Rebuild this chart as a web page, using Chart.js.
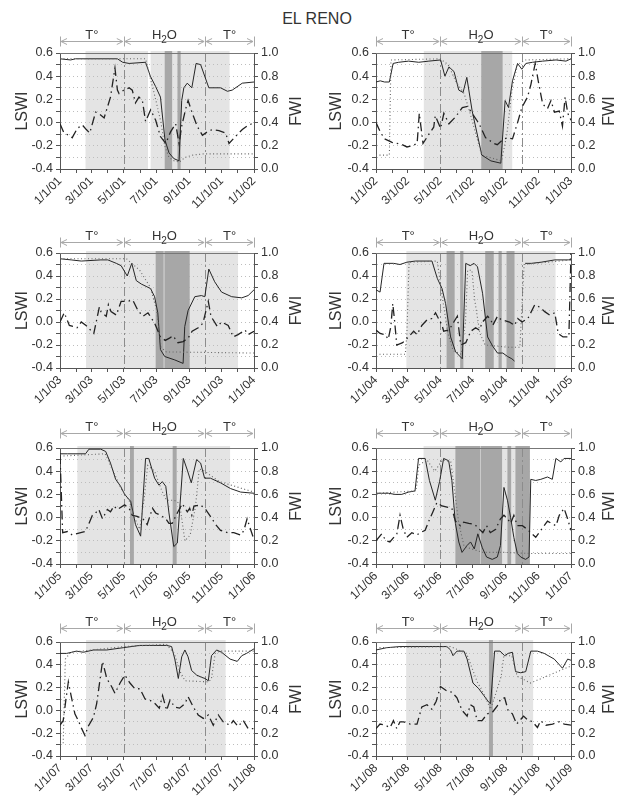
<!DOCTYPE html>
<html lang="en">
<head>
<meta charset="UTF-8">
<title>El Reno - LSWI / FWI</title>
<script src="https://cdn.jsdelivr.net/npm/chart.js"></script>
<style>
  body { margin: 0; background: #fff; font-family: "Liberation Sans", Arial, sans-serif; }
  #page { position: relative; width: 618px; height: 802px; overflow: hidden; }
  h1 { position: absolute; top: 10px; left: 16px; width: 602px; margin: 0; text-align: center;
       font-size: 16px; font-weight: normal; color: #333; }
  canvas { position: absolute; }
</style>
</head>
<body>
<div id="page">
  <h1>EL RENO</h1>
</div>

<script>
// ---- data (days since Jan 1 of each year) ----
const years = ['01', '02', '03', '04', '05', '06', '07', '08'];
const nextYears = ['02', '03', '04', '05', '06', '07', '08', '09'];
const leapYears = ['04', '08'];
const tickMonths = [1, 3, 5, 7, 9, 11];
const lswiTicks = [-0.4, -0.3, -0.2, -0.1, 0, 0.1, 0.2, 0.3, 0.4, 0.5, 0.6];
const lswiLabeled = [-0.4, -0.2, 0, 0.2, 0.4, 0.6];
const fwiTicks = [0, 0.1, 0.2, 0.3, 0.4, 0.5, 0.6, 0.7, 0.8, 0.9, 1.0];
const fwiLabeled = [0, 0.2, 0.4, 0.6, 0.8, 1.0];
const seasonLabels = ['T°', 'H2O', 'T°'];

// 2001
const fwiSolid01 = [[0,0.95],[20,0.94],[29,0.95],[108,0.95],[118,0.92],[130,0.91],[161,0.92],[170,0.80],[180,0.71],[189,0.62],[197.5,0.25],[205,0.14],[214,0.09],[224,0.07],[229,0.59],[233,0.70],[239.5,0.74],[248,0.70],[256,0.91],[264.6,0.90],[280,0.70],[302,0.70],[315,0.67],[324,0.68],[343,0.74],[365,0.75]];
const fwiDotted01 = [[0,0.95],[161,0.95],[170,0.78],[180,0.60],[190,0.40],[197,0.20],[205,0.10],[215,0.07],[225,0.06],[235,0.10],[250,0.12],[270,0.13],[365,0.13]];
const lswi01 = [[0,-0.01],[7.5,-0.09],[17,-0.11],[23,-0.13],[32.6,-0.05],[42,-0.02],[49.5,-0.06],[56,-0.09],[67,0.09],[73,0.08],[83,0.04],[95,0.22],[103.4,0.47],[108,0.28],[111,0.25],[120,0.28],[130,0.30],[136,0.28],[142,0.17],[148.6,0.22],[155,0.19],[161,0.01],[170.5,0.11],[180,0.02],[189,-0.12],[199,-0.18],[208,-0.08],[217.6,-0.01],[224,-0.18],[229,-0.03],[236,0.11],[241,0.19],[249,0.08],[258,-0.03],[268,-0.11],[277,-0.08],[286.5,-0.06],[299,-0.07],[311.6,-0.09],[318,-0.18],[330,-0.12],[343,-0.06],[352,-0.03],[365,0.0]];
const light01 = [[48,165.5],[170.5,319]];
const dark01 = [[197,211],[221,227]];

// 2002
const fwiSolid02 = [[0,0.75],[8,0.76],[16,0.75],[25,0.75],[32,0.91],[42.5,0.92],[61,0.93],[80,0.92],[99,0.93],[121,0.94],[129,0.80],[136.5,0.88],[146,0.84],[155,0.68],[163,0.66],[170,0.79],[180,0.50],[198,0.12],[215,0.07],[233.6,0.05],[241.7,0.59],[248,0.53],[255.5,0.76],[265,0.91],[273,0.86],[280.5,0.91],[293,0.92],[312,0.93],[337,0.94],[355.6,0.93],[365,0.95]];
const fwiDotted02 = [[0,0.12],[25,0.12],[28,0.94],[120,0.95],[135,0.90],[150,0.75],[165,0.65],[175,0.50],[190,0.25],[198,0.12],[235,0.07],[245,0.30],[255,0.70],[265,0.90],[280,0.94],[365,0.95]];
const lswi02 = [[0,0.0],[8,-0.08],[16,-0.14],[30,-0.17],[49,-0.19],[58,-0.21],[67.6,-0.20],[77,-0.18],[81,0.08],[88,-0.18],[99,-0.10],[108,-0.04],[111,0.06],[121,-0.05],[127,0.08],[136.5,-0.01],[149,0.05],[161.5,0.13],[171,0.14],[180,0.08],[193,-0.01],[205,-0.13],[221,-0.18],[227,-0.19],[236.7,-0.15],[246,-0.13],[255.5,-0.14],[265,0.0],[273,0.13],[283.6,0.22],[290,0.33],[298,0.51],[304,0.35],[312,0.16],[321,0.12],[327.5,0.19],[334,0.09],[343,0.10],[349,-0.03],[354,0.22],[359,0.08],[365,0.02]];
const light02 = [[89.5,255]];
const dark02 = [[197,237]];

// 2003
const fwiSolid03 = [[0,0.95],[21,0.94],[40,0.93],[77,0.94],[90,0.94],[106,0.91],[115,0.89],[126.5,0.80],[135,0.91],[143.5,0.76],[153,0.73],[162,0.71],[170.5,0.69],[178,0.62],[184,0.48],[189,0.16],[197,0.10],[216,0.07],[231.6,0.04],[234.7,0.36],[241,0.50],[253.6,0.62],[266,0.63],[272.5,0.62],[280,0.86],[291,0.75],[304,0.66],[323,0.62],[342,0.61],[354,0.63],[365,0.68]];
const fwiDotted03 = [[0,0.95],[125,0.95],[150,0.85],[170,0.70],[182,0.50],[190,0.18],[200,0.14],[365,0.13]];
const lswi03 = [[0,0.0],[8,0.08],[17.6,-0.03],[27,-0.04],[32,-0.05],[40,0.0],[49,-0.03],[63.6,-0.10],[74,0.13],[77,0.09],[87,0.05],[91,0.15],[96,0.09],[106,0.06],[115,0.18],[126.5,0.18],[137,0.19],[146.6,0.10],[156,0.05],[165.5,0.08],[178,-0.01],[189,-0.13],[198,-0.16],[206,-0.14],[212.7,-0.12],[222,-0.18],[231.6,-0.17],[241,-0.14],[248.6,-0.08],[260,-0.05],[269,-0.01],[279,0.18],[284,0.05],[296,-0.04],[304,0.0],[316.5,-0.03],[326,-0.13],[335,-0.11],[348,-0.07],[354,-0.11],[365,-0.08]];
const light03 = [[49,335]];
const dark03 = [[180,195],[196.5,244]];

// 2004
const fwiSolid04 = [[0,0.68],[7.6,0.66],[15,0.91],[33,0.91],[45,0.90],[58,0.92],[74,0.93],[105,0.93],[115,0.78],[124,0.69],[130.6,0.56],[140,0.27],[149.5,0.14],[162,0.08],[168.5,0.91],[176.7,0.89],[184,0.91],[190.5,0.88],[200,0.65],[209.5,0.27],[219,0.19],[228,0.13],[238,0.13],[247,0.10],[255,0.08],[260,0.06],[270,null],[280,0.91],[291.5,0.91],[310,0.92],[335.6,0.94],[361,0.94],[366,0.95]];
const fwiDotted04 = [[0,0.12],[55,0.12],[58,0.30],[62,0.92],[115,0.93],[125,0.60],[135,0.30],[145,0.15],[160,0.12],[168,0.40],[172,0.85],[180,0.85],[185,0.60],[195,0.30],[205,0.20],[250,0.18],[270,0.18],[278,0.90],[366,0.94]];
const lswi04 = [[0,-0.07],[7.6,-0.10],[17,-0.11],[23,-0.15],[27.8,-0.04],[31.5,0.16],[34.7,0.02],[39,-0.20],[50,-0.18],[61,-0.13],[70.7,-0.08],[77,-0.11],[86,-0.03],[96,0.02],[105,0.03],[111.7,0.08],[124,-0.03],[127,-0.08],[137,-0.07],[146,0.0],[152.7,0.05],[159,-0.20],[168.5,-0.18],[178,-0.08],[187,-0.05],[193.7,-0.07],[200,0.0],[209.5,0.05],[215.8,0.02],[219,-0.03],[228,0.05],[234.7,0.02],[250.5,0.0],[260,-0.03],[266,0.03],[274,0.0],[285,0.03],[298,0.15],[307,0.13],[316.7,0.09],[326,0.06],[335.6,0.08],[342,-0.10],[351,-0.13],[362,-0.13],[366,0.6]];
const light04 = [[57,337]];
const dark04 = [[132.5,147.6],[158,164],[205,221],[230,236],[245,260]];

// 2005
const fwiSolid05 = [[0,0.95],[14,0.95],[48,0.95],[54.5,0.99],[76.5,0.99],[86,0.97],[95,0.87],[104.7,0.73],[114,0.67],[121.6,0.60],[133,0.54],[139,0.41],[142,0.34],[151.7,0.24],[161,0.91],[167,0.91],[178,0.74],[186,0.68],[192.5,0.71],[199,0.67],[205,0.44],[214,0.15],[220.7,0.18],[232,0.91],[239.5,0.81],[247,0.70],[257,0.90],[264.6,0.87],[272,0.74],[283,0.74],[302,0.70],[321,0.65],[340,0.62],[365,0.61]];
const fwiDotted05 = [[0,0.93],[85,0.95],[100,0.80],[115,0.65],[130,0.55],[140,0.40],[150,0.30],[158,0.55],[165,0.85],[178,0.80],[190,0.65],[200,0.55],[215,0.55],[225,0.52],[235,0.20],[245,0.25],[255,0.50],[262,0.82],[272,0.80],[300,0.71],[365,0.62]];
const lswi05 = [[0,0.54],[5,-0.13],[14,-0.12],[23,-0.15],[39,-0.13],[48,-0.12],[54.5,-0.05],[61,0.02],[67,0.04],[73,0.07],[80,-0.01],[89,0.07],[95,0.05],[101.6,0.10],[108,0.07],[121.6,0.11],[130,0.08],[136,0.02],[145,0.01],[156,-0.01],[164,-0.06],[174,0.08],[180,0.04],[189,0.02],[199,-0.01],[205,-0.05],[211,-0.05],[220.7,0.04],[230,0.12],[239.5,0.05],[244,0.08],[248,0.02],[252,0.10],[264.6,0.11],[274,0.07],[283,0.01],[293,-0.06],[302,-0.11],[315,-0.13],[327,-0.13],[340,-0.15],[346,-0.11],[352,-0.01],[357,-0.08],[365,-0.19]];
const light05 = [[32.6,320]];
const dark05 = [[131.7,139],[212,219.5]];

// 2006
const fwiSolid06 = [[0,0.61],[10.7,0.61],[23,0.61],[35.7,0.60],[48,0.60],[61,0.62],[73,0.63],[79.6,0.91],[92,0.91],[100,0.72],[111,0.55],[119,0.71],[126.6,0.91],[136,0.89],[142,0.72],[148.6,0.35],[155,0.19],[161,0.10],[170.5,0.16],[177,0.19],[184,0.13],[190.6,0.26],[199,0.14],[207,0.06],[217.6,0.04],[227,0.06],[233,0.16],[239.5,0.66],[246,0.55],[252,0.40],[258,0.23],[264.6,0.09],[271,0.06],[280,0.04],[286.5,0.06],[289.7,0.73],[299,0.72],[308.5,0.73],[321,0.75],[330,0.73],[336.7,0.91],[346,0.88],[352,0.91],[365,0.91]];
const fwiDotted06 = [[0,0.61],[75,0.63],[80,0.85],[95,0.90],[110,0.80],[125,0.90],[140,0.88],[148,0.60],[155,0.35],[165,0.15],[200,0.10],[240,0.10],[290,0.09],[365,0.09]];
const lswi06 = [[0,-0.20],[10.7,-0.14],[18.8,-0.20],[26,-0.21],[39,-0.14],[45,0.02],[51,-0.10],[57.7,-0.17],[67,-0.13],[76.5,-0.15],[82.8,-0.13],[92,-0.11],[98,-0.04],[106.6,0.05],[114,0.13],[123.5,0.10],[133,0.09],[142,0.08],[148.6,-0.03],[158,-0.07],[164,-0.04],[173.7,-0.05],[185,-0.06],[200,-0.13],[207,-0.07],[214,-0.13],[224,-0.10],[233,-0.01],[239.5,0.02],[246,-0.01],[252,-0.05],[258,0.02],[264.6,-0.07],[274,-0.07],[283,-0.10],[299,-0.17],[308.5,-0.11],[321,-0.03],[328.5,-0.05],[337,-0.07],[343,0.02],[352,0.08],[358.6,-0.01],[365,-0.11]];
const light06 = [[89,288]];
const dark06 = [[148.6,195],[196,236],[246,253],[261,288]];

// 2007
const fwiSolid07 = [[0,0.90],[12.5,0.90],[22,0.91],[31,0.92],[44,0.91],[63,0.93],[88,0.93],[119,0.95],[150,0.97],[200.6,0.97],[210,0.96],[216,0.85],[222.6,0.68],[229,0.87],[235,0.93],[241,0.87],[247.6,0.75],[257,0.71],[266.5,0.69],[272.7,0.68],[279,0.66],[285,0.88],[294.7,0.93],[304,0.91],[320,0.85],[333.5,0.83],[342,0.88],[351,0.90],[365,0.94]];
const fwiDotted07 = [[0,0.11],[6,0.11],[10,0.85],[20,0.91],[120,0.96],[200,0.98],[215,0.90],[225,0.75],[235,0.66],[280,0.65],[285,0.68],[292,0.90],[300,0.92],[365,0.92]];
const lswi07 = [[0,-0.13],[6,-0.09],[11,0.09],[15.7,0.25],[20,0.15],[28,-0.03],[34.5,-0.09],[40.8,-0.16],[47,-0.22],[53,-0.14],[63,-0.06],[69,0.06],[75,0.26],[80,0.43],[88,0.28],[97,0.21],[103.4,0.15],[113,0.24],[122,0.31],[131.6,0.24],[141,0.19],[150.5,0.19],[160,0.10],[169,0.09],[178.7,0.06],[186.8,0.02],[193,0.13],[200.6,0.0],[207,0.09],[216,0.03],[225,0.02],[235,0.06],[241,0.12],[250.8,0.03],[260,-0.04],[269.6,-0.07],[279,-0.04],[288.4,-0.13],[297.8,-0.04],[307,-0.10],[320,-0.13],[326,-0.09],[335,-0.14],[345,-0.09],[354,-0.16],[365,-0.16]];
const light07 = [[49,311.6]];
const dark07 = [];

// 2008
const fwiSolid08 = [[0,0.93],[20,0.95],[45,0.96],[77,0.96],[133,0.96],[140,0.93],[144.6,0.88],[152,0.92],[165,0.92],[171,0.85],[182,0.64],[193,0.59],[202.5,0.53],[212,0.47],[215,0.46],[222.6,0.92],[232.7,0.92],[241.5,0.88],[248,0.90],[256,0.91],[262,0.74],[271.7,0.73],[281,0.74],[290.6,0.92],[303,0.92],[315.7,0.90],[334.6,0.85],[350,0.77],[359.7,0.85],[366,0.84]];
const fwiDotted08 = [[0,0.95],[140,0.96],[170,0.90],[190,0.65],[205,0.52],[215,0.41],[225,0.55],[235,0.70],[240,0.88],[255,0.88],[265,0.70],[290,0.64],[366,0.79]];
const lswi08 = [[0,-0.16],[7.5,-0.12],[17,-0.13],[26.4,-0.15],[32.7,-0.09],[39,-0.16],[45,-0.10],[51.6,-0.10],[64,-0.12],[77,-0.12],[86,0.03],[95.6,0.05],[105,0.01],[113,0.08],[121,0.21],[133,0.17],[142.8,0.16],[152,0.11],[161.6,0.0],[171,-0.05],[177,0.05],[183.6,0.03],[190,-0.09],[199,-0.09],[209,-0.03],[218,-0.02],[227.7,0.04],[234,0.10],[241.5,0.11],[248,0.0],[256,-0.03],[264,-0.12],[277,-0.05],[284,-0.08],[293.7,-0.10],[303,-0.15],[309,-0.09],[319,-0.13],[331.4,-0.12],[344,-0.10],[353.5,-0.12],[366,-0.13]];
const light08 = [[56.6,295]];
const dark08 = [[212,219.5]];

const solids = [fwiSolid01, fwiSolid02, fwiSolid03, fwiSolid04, fwiSolid05, fwiSolid06, fwiSolid07, fwiSolid08];
const dotteds = [fwiDotted01, fwiDotted02, fwiDotted03, fwiDotted04, fwiDotted05, fwiDotted06, fwiDotted07, fwiDotted08];
const lswis = [lswi01, lswi02, lswi03, lswi04, lswi05, lswi06, lswi07, lswi08];
const lights = [light01, light02, light03, light04, light05, light06, light07, light08];
const darks = [dark01, dark02, dark03, dark04, dark05, dark06, dark07, dark08];

// ---- layout ----
const rowTop = [53, 253, 448, 642];
const rowBottom = [169, 368, 564, 756];
const arrowGap = [12, 11, 15, 14];
const colCanvasX = [0, 309];
const colLeft = [60, 376];
const colRight = [254, 571];
const CANVAS_W = 309;
const TOP_PAD = 30;
const X_AXIS_H = 46;
const TITLE_SIZE = 16;

Chart.defaults.font.family = '"Liberation Sans", Arial, sans-serif';

function monthStarts(leap) {
    const lens = [31, leap ? 29 : 28, 31, 30, 31, 30, 31, 31, 30, 31, 30, 31];
    const out = [0];
    lens.forEach(n => out.push(out[out.length - 1] + n));
    return out;
}

function toXY(pairs) {
    return pairs.map(p => ({ x: p[0], y: p[1] }));
}

function isLabeled(list, v) {
    return list.some(t => Math.abs(t - v) < 1e-6);
}

const panelDeco = {
    id: 'panelDeco',
    beforeDraw(chart, args, o) {
        const { ctx, chartArea: a, scales: { x } } = chart;
        ctx.save();
        ctx.fillStyle = '#e4e4e4';
        o.light.forEach(([s, e]) => {
            const x1 = x.getPixelForValue(s), x2 = x.getPixelForValue(e);
            ctx.fillRect(x1, a.top - 2, x2 - x1, a.bottom - a.top + 2);
        });
        ctx.restore();
    },
    beforeDatasetsDraw(chart, args, o) {
        const { ctx, chartArea: a, scales: { x } } = chart;
        ctx.save();
        ctx.fillStyle = '#a7a7a7';
        o.dark.forEach(([s, e]) => {
            const x1 = x.getPixelForValue(s), x2 = x.getPixelForValue(e);
            ctx.fillRect(x1, a.top - 2, x2 - x1, a.bottom - a.top + 2);
        });
        // season dividers
        ctx.strokeStyle = '#8c8c8c';
        ctx.lineWidth = 1;
        ctx.setLineDash([9, 3, 2, 3]);
        [o.bounds[1], o.bounds[2]].forEach(d => {
            const px = Math.round(x.getPixelForValue(d)) + 0.5;
            ctx.beginPath();
            ctx.moveTo(px, a.top);
            ctx.lineTo(px, a.bottom);
            ctx.stroke();
        });
        // top frame
        ctx.setLineDash([]);
        ctx.strokeStyle = '#777';
        ctx.beginPath();
        ctx.moveTo(a.left, a.top + 0.5);
        ctx.lineTo(a.right, a.top + 0.5);
        ctx.stroke();
        ctx.restore();
    },
    afterDraw(chart, args, o) {
        const { ctx, chartArea: a, scales: { x } } = chart;
        const y = a.top - o.arrowGap + 0.5;
        const px = o.bounds.map(d => x.getPixelForValue(d));
        ctx.save();
        ctx.strokeStyle = '#a8a8a8';
        ctx.lineWidth = 1;
        for (let i = 0; i < 3; i++) {
            const xa = px[i], xb = px[i + 1];
            ctx.beginPath();
            ctx.moveTo(xa + 1, y); ctx.lineTo(xb - 1, y);
            ctx.moveTo(xa + 7, y - 3); ctx.lineTo(xa + 1, y); ctx.lineTo(xa + 7, y + 3);
            ctx.moveTo(xb - 7, y - 3); ctx.lineTo(xb - 1, y); ctx.lineTo(xb - 7, y + 3);
            ctx.stroke();
        }
        px.forEach(p => {
            const xx = Math.round(p) + 0.5;
            ctx.beginPath();
            ctx.moveTo(xx, y - 5); ctx.lineTo(xx, y + 5);
            ctx.stroke();
        });
        // labels
        const big = '13px "Liberation Sans", Arial, sans-serif';
        const small = '10px "Liberation Sans", Arial, sans-serif';
        ctx.fillStyle = '#333';
        ctx.textBaseline = 'alphabetic';
        for (let i = 0; i < 3; i++) {
            const cx = (px[i] + px[i + 1]) / 2;
            const label = seasonLabels[i];
            if (label === 'H2O') {
                ctx.font = big;
                const wH = ctx.measureText('H').width, wO = ctx.measureText('O').width;
                ctx.font = small;
                const w2 = ctx.measureText('2').width;
                const sx = cx - (wH + w2 + wO) / 2;
                ctx.textAlign = 'left';
                ctx.font = big;
                ctx.fillText('H', sx, y - 3);
                ctx.font = small;
                ctx.fillText('2', sx + wH, y + 1);
                ctx.font = big;
                ctx.fillText('O', sx + wH + w2, y - 3);
            } else {
                ctx.font = big;
                ctx.textAlign = 'center';
                ctx.fillText(label, cx, y - 3);
            }
        }
        // right axis title, reads bottom to top
        ctx.translate(o.fwiX, (a.top + a.bottom) / 2);
        ctx.rotate(-Math.PI / 2);
        ctx.font = TITLE_SIZE + 'px "Liberation Sans", Arial, sans-serif';
        ctx.textAlign = 'center';
        ctx.textBaseline = 'middle';
        ctx.fillStyle = '#333';
        ctx.fillText('FWI', 0, 0);
        ctx.restore();
    }
};
Chart.register(panelDeco);

const page = document.getElementById('page');

years.forEach((yy, k) => {
    const row = Math.floor(k / 2), col = k % 2;
    const ms = monthStarts(leapYears.includes(yy));
    const plotH = rowBottom[row] - rowTop[row];
    const canvas = document.createElement('canvas');
    canvas.width = CANVAS_W;
    canvas.height = plotH + TOP_PAD + X_AXIS_H;
    canvas.style.left = colCanvasX[col] + 'px';
    canvas.style.top = (rowTop[row] - TOP_PAD) + 'px';
    page.appendChild(canvas);

    const leftW = colLeft[col] - colCanvasX[col];
    const rightW = colCanvasX[col] + CANVAS_W - colRight[col];
    const lswiTitleX = col === 0 ? 23 : 28;

    const xLabels = tickMonths.map(m => `${m}/1/${yy}`).concat([`1/1/${nextYears[k]}`]);

    new Chart(canvas, {
        type: 'line',
        data: {
            datasets: [
                {
                    label: 'LSWI',
                    data: toXY(lswis[k]),
                    yAxisID: 'y',
                    borderColor: '#222',
                    borderWidth: 1.3,
                    borderDash: [9, 4, 1.5, 4],
                    pointRadius: 0,
                    tension: 0
                },
                {
                    label: 'FWI (dotted)',
                    data: toXY(dotteds[k]),
                    yAxisID: 'y1',
                    borderColor: '#666',
                    borderWidth: 1.1,
                    borderDash: [1, 2.5],
                    pointRadius: 0,
                    tension: 0
                },
                {
                    label: 'FWI',
                    data: toXY(solids[k]),
                    yAxisID: 'y1',
                    borderColor: '#262626',
                    borderWidth: 1,
                    pointRadius: 0,
                    tension: 0
                }
            ]
        },
        options: {
            responsive: false,
            animation: false,
            events: [],
            layout: { padding: { top: TOP_PAD, left: 0, right: 0, bottom: 0 } },
            plugins: {
                legend: { display: false },
                tooltip: { enabled: false },
                panelDeco: {
                    light: lights[k],
                    dark: darks[k],
                    bounds: [0, ms[4], ms[9], ms[12]],
                    arrowGap: arrowGap[row],
                    fwiX: col === 0 ? 297 : 301
                }
            },
            scales: {
                x: {
                    type: 'linear',
                    min: 0,
                    max: ms[12],
                    afterBuildTicks: s => { s.ticks = ms.map(v => ({ value: v })); },
                    afterFit: s => { s.height = X_AXIS_H; },
                    ticks: {
                        autoSkip: false,
                        minRotation: 45,
                        maxRotation: 45,
                        padding: 1,
                        color: '#333',
                        font: { size: 12 },
                        callback: (v, i) => (i % 2 === 0 ? xLabels[i / 2] : '')
                    },
                    grid: { drawOnChartArea: false, tickLength: 4, color: '#555' },
                    border: { color: '#555' }
                },
                y: {
                    position: 'left',
                    min: -0.4,
                    max: 0.6,
                    afterBuildTicks: s => { s.ticks = lswiTicks.map(v => ({ value: v })); },
                    afterFit: s => { s.width = leftW; },
                    ticks: {
                        autoSkip: false,
                        padding: 3,
                        color: '#333',
                        font: { size: 12.5 },
                        callback: v => (isLabeled(lswiLabeled, v) ? v.toFixed(1) : '')
                    },
                    grid: { color: '#bdbdbd', tickLength: 4, tickColor: '#555' },
                    border: { color: '#555', dash: [1, 3] },
                    title: {
                        display: true,
                        text: 'LSWI',
                        color: '#333',
                        font: { size: TITLE_SIZE },
                        padding: { top: lswiTitleX - TITLE_SIZE * 0.6, bottom: 0 }
                    }
                },
                y1: {
                    position: 'right',
                    min: 0,
                    max: 1,
                    afterBuildTicks: s => { s.ticks = fwiTicks.map(v => ({ value: v })); },
                    afterFit: s => { s.width = rightW; },
                    ticks: {
                        autoSkip: false,
                        padding: 3,
                        color: '#333',
                        font: { size: 12.5 },
                        callback: v => (isLabeled(fwiLabeled, v) ? v.toFixed(1) : '')
                    },
                    grid: { drawOnChartArea: false, tickLength: 4, color: '#555' },
                    border: { color: '#555' }
                }
            }
        }
    });
});
</script>
</body>
</html>
